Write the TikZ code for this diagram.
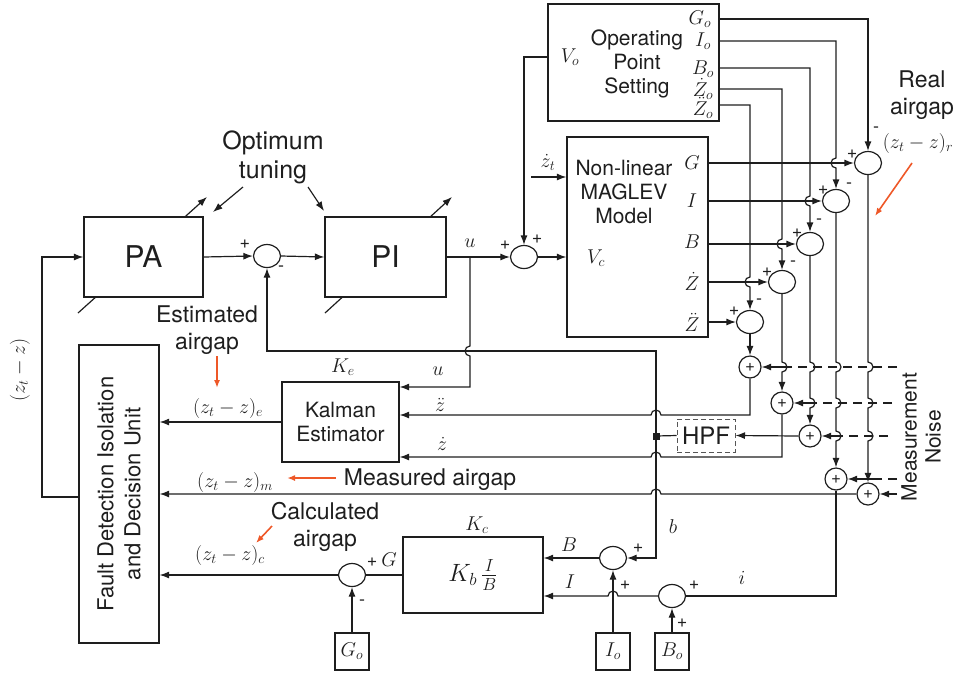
\documentclass[tikz,border=0pt]{standalone}
\usepackage{fix-cm}
\usepackage{fontspec}
\setsansfont{TeX Gyre Heros}
\usetikzlibrary{arrows.meta,shapes.geometric}
\definecolor{ink}{RGB}{30,30,30}
\definecolor{redo}{RGB}{238,88,40}
\begin{document}
\begin{tikzpicture}[x=1pt,y=-1pt,line width=1.2pt,color=ink,
 arr/.style={-{Latex[length=9.5pt,width=7pt]}},
 blk/.style={draw, fill=white, inner sep=0pt, align=center, font=\sffamily\fontsize{21}{24}\selectfont},
 txt/.style={inner sep=0pt, align=center, font=\sffamily\fontsize{21}{24}\selectfont},
 big/.style={font=\sffamily\fontsize{30}{32}\selectfont},
 sbox/.style={draw, fill=white, minimum width=34pt, minimum height=37pt, inner sep=0pt, font=\fontsize{20}{22}\selectfont},
 sumc/.style={draw, ellipse, minimum width=27pt, minimum height=23pt, inner sep=0pt},
 nsum/.style={draw, circle, minimum size=22pt, inner sep=0pt, font=\sffamily\fontsize{17}{17}\selectfont},
 sgn/.style={font=\sffamily\fontsize{18}{18}\selectfont, inner sep=0pt},
 ml/.style={font=\fontsize{20}{22}\selectfont, inner sep=0pt},
 ann/.style={font=\sffamily\fontsize{23}{27}\selectfont, align=center, inner sep=0pt},
 redarr/.style={draw=redo, line width=1.6pt, -{Latex[length=8pt,width=6pt]}},
 noise/.style={dashed, dash pattern=on 9pt off 6pt, line width=1.4pt}]
\useasboundingbox (0,0) rectangle (960,673);

% tuning arrows through PA and PI
\draw[arr] (78,313) -- (207,197);
\draw[arr] (325,313) -- (452,197);

% blocks
\node[blk, minimum width=171pt, minimum height=117pt] (ops) at (633.5,62.5) {};
\node[txt] (opst) at (637,64) {Operating\\Point\\Setting};
\node[blk, minimum width=141pt, minimum height=200pt] (mag) at (637.5,237) {};
\node[txt] (magt) at (624,192) {Non-linear\\MAGLEV\\Model};
\node[blk, big, minimum width=119pt, minimum height=80pt] (pa) at (143.5,257) {PA};
\node[blk, big, minimum width=121pt, minimum height=80pt] (pi) at (385.5,257) {PI};
\node[blk, minimum width=117pt, minimum height=80pt] (kal) at (340.5,422) {Kalman\\Estimator};
\node[blk, minimum width=80pt, minimum height=298pt] (fdi) at (119,494) {};
\node[ann, rotate=90, font=\sffamily\fontsize{22}{27}\selectfont] (fdit) at (119,494) {Fault Detection Isolation\\and Decision Unit};
\node[blk, minimum width=140pt, minimum height=76pt, font=\fontsize{25}{27}\selectfont] (kc) at (473,575) {$K_b\,\frac{I}{B}$};
\node[sbox] (go) at (352,651.5) {$G_o$};
\node[sbox] (io) at (613,651.5) {$I_o$};
\node[sbox] (bo) at (672,651.5) {$B_o$};
\node[draw=ink!75, dash pattern=on 5pt off 3pt, line width=1pt, minimum width=58pt, minimum height=33pt, inner sep=0pt, font=\sffamily\fontsize{24}{26}\selectfont] (hpf) at (706,435.5) {HPF};

% summing junctions
\node[sumc] (s1) at (267,256) {};
\node[sumc] (sv) at (524,257) {};
\node[sumc] (c1) at (868,163) {};
\node[sumc] (c2) at (836,201) {};
\node[sumc] (c3) at (810,244) {};
\node[sumc] (c4) at (782,282) {};
\node[sumc] (c5) at (750,322) {};
\node[sumc] (sg) at (352,575) {};
\node[sumc] (sb) at (613,558) {};
\node[sumc] (si) at (672,596) {};
\node[nsum] (n5) at (750,367) {+};
\node[nsum] (n4) at (782,403) {+};
\node[nsum] (n3) at (810,436) {+};
\node[nsum] (n2) at (836,479) {+};
\node[nsum] (n1) at (868,494) {+};
\node[fill=ink, minimum size=7pt, inner sep=0pt] (jn) at (656,436) {};
\coordinate (uj) at (470,256);
\coordinate (zt) at (531,177);

% main forward path
\draw[arr] (fdi.west |- 0,497) -- (42,497) -- (42,257) -- (pa.west);
\draw[arr] (pa.east) -- (s1.west);
\draw[arr] (s1.east) -- (pi.west);
\draw[arr] (pi.east) -- (sv.west);
\draw[arr] (sv.east) -- (mag.west |- sv.east);
\draw[arr] (ops.west |- 0,57) -- (524,57) -- (sv.north);
\draw[arr] (zt) -- (mag.west |- zt);
\draw[arr] (uj) -- (470,346) arc[start angle=270,end angle=90,radius=5] -- (470,387) -- (kal.east |- 0,387);

% operating point columns
\draw[arr] (ops.east |- 0,19) -- (868,19) -- (c1.north);
\draw[arr] (ops.east |- 0,41) -- (836,41) -- (836,158) arc[start angle=270,end angle=90,radius=5] -- (c2.north);
\draw[arr] (ops.east |- 0,68) -- (810,68) -- (810,196) arc[start angle=270,end angle=90,radius=5] -- (c3.north);
\draw[arr] (ops.east |- 0,89) -- (782,89) -- (782,239) arc[start angle=270,end angle=90,radius=5] -- (c4.north);
\draw[arr] (ops.east |- 0,105) -- (750,105) -- (750,277) arc[start angle=270,end angle=90,radius=5] -- (c5.north);

% model outputs
\draw[arr] (mag.east |- c1.west) -- (c1.west);
\draw[arr] (mag.east |- c2.west) -- (c2.west);
\draw[arr] (mag.east |- c3.west) -- (c3.west);
\draw[arr] (mag.east |- c4.west) -- (c4.west);
\draw[arr] (mag.east |- c5.west) -- (c5.west);

% difference outputs to noise sums
\draw[arr] (c1.south) -- (868,362) arc[start angle=-90,end angle=90,radius=5] -- (868,398) arc[start angle=-90,end angle=90,radius=5] -- (868,431) arc[start angle=-90,end angle=90,radius=5] -- (n1.north);
\draw[arr] (c2.south) -- (836,362) arc[start angle=-90,end angle=90,radius=5] -- (836,398) arc[start angle=-90,end angle=90,radius=5] -- (836,431) arc[start angle=-90,end angle=90,radius=5] -- (n2.north);
\draw[arr] (c3.south) -- (810,362) arc[start angle=-90,end angle=90,radius=5] -- (810,398) arc[start angle=-90,end angle=90,radius=5] -- (n3.north);
\draw[arr] (c4.south) -- (782,362) arc[start angle=-90,end angle=90,radius=5] -- (n4.north);
\draw[arr] (c5.south) -- (n5.north);

% measurement noise
\draw[noise] (897,367) -- (787,367);
\draw[arr] (787,367) -- (n5.east);
\draw[noise] (892,403) -- (815,403);
\draw[arr] (815,403) -- (n4.east);
\draw[noise] (888,436) -- (841,436);
\draw[arr] (841,436) -- (n3.east);
\draw[noise] (897,479) -- (873,479);
\draw[arr] (873,479) -- (n2.east);
\draw[arr] (897,494) -- (n1.east);

% measured signals
\draw[arr] (n5.south) -- (750,415) -- (661,415) arc[start angle=0,end angle=-180,radius=5] -- (kal.east |- 0,415);
\draw[arr] (n4.south) -- (782,457) -- (661,457) arc[start angle=0,end angle=-180,radius=5] -- (kal.east |- 0,457);
\draw[arr] (n3.west) -- (hpf.east);
\draw (hpf.west) -- (jn.center);
\draw (n2.south) -- (836,596) -- (si.east);
\draw[arr] (n1.west) -- (661,494) arc[start angle=0,end angle=-180,radius=5] -- (fdi.east |- 0,494);
\draw[arr] (jn.center) -- (656,351) -- (s1.south |- 0,351) -- (s1.south);
\draw[arr] (jn.center) -- (656,558) -- (sb.east);

% Kalman and calculated paths
\draw[arr] (kal.west) -- (fdi.east |- kal.west);
\draw (kc.west |- sg.east) -- (sg.east);
\draw[arr] (sg.west) -- (fdi.east |- sg.west);
\draw[arr] (go.north) -- (sg.south);
\draw[arr] (sb.west) -- (kc.east |- sb.west);
\draw[arr] (io.north) -- (sb.south);
\draw[arr] (si.west) -- (618,596) arc[start angle=0,end angle=-180,radius=5] -- (kc.east |- si.west);
\draw[arr] (bo.north) -- (si.south);

% optimum tuning
\node[ann, font=\sffamily\fontsize{25}{29}\selectfont] (opt) at (273,157) {Optimum\\tuning};
\draw[arr] (243,187) -- (213,212);
\draw[arr] (308,187) -- (324,211);

% annotations
\node[ann] (esta) at (207,330) {Estimated\\airgap};
\draw[redarr] (217,356) -- (217,388);
\node[ann] (meas) at (430,480) {Measured airgap};
\draw[redarr] (336,478) -- (287,478);
\node[ann] (calc) at (325,527) {Calculated\\airgap};
\draw[redarr] (272,526) -- (256,543);
\node[ann] (real) at (922,95) {Real\\airgap};
\draw[redarr] (912,163) -- (875,216);
\node[ann, rotate=90, font=\sffamily\fontsize{21}{24}\selectfont] (mn) at (921,437) {Measurement\\Noise};

% signs
\node[sgn] at (245,244) {+}; \node[sgn] at (281,269) {-};
\node[sgn] at (505,245) {+}; \node[sgn] at (537,239) {+};
\node[sgn] at (852,154) {+}; \node[sgn] at (876,130) {-};
\node[sgn] at (823,190) {+}; \node[sgn] at (849,186) {-};
\node[sgn] at (797,233) {+}; \node[sgn] at (819,222) {-};
\node[sgn] at (767,272) {+}; \node[sgn] at (793,264) {-};
\node[sgn] at (734,311) {+}; \node[sgn] at (759,302) {-};
\node[sgn] at (372,562) {+}; \node[sgn] at (362,603) {-};
\node[sgn] at (638,548) {+}; \node[sgn] at (625,585) {+};
\node[sgn] at (694,585) {+}; \node[sgn] at (682,623) {+};

% math labels
\node[ml] at (700,19) {$G_o$};
\node[ml] at (703,41) {$I_o$};
\node[ml] at (703,69) {$B_o$};
\node[ml] at (703,89) {$\dot{Z}_o$};
\node[ml] at (703,108) {$\ddot{Z}_o$};
\node[ml] at (570,57) {$V_o$};
\node[ml] at (692,163) {$G$};
\node[ml] at (692,201) {$I$};
\node[ml] at (692,242) {$B$};
\node[ml] at (692,281) {$\dot{Z}$};
\node[ml] at (692,322) {$\ddot{Z}$};
\node[ml] at (596,258) {$V_c$};
\node[ml] at (548,162) {$\dot{z}_t$};
\node[ml] at (470,243) {$u$};
\node[ml] at (918,143) {$(z_t-z)_r$};
\node[ml] at (343,367) {$K_e$};
\node[ml] at (438,371) {$u$};
\node[ml] at (440,405) {$\ddot{z}$};
\node[ml] at (442,444) {$\dot{z}$};
\node[ml] at (228,408) {$(z_t-z)_e$};
\node[ml] at (235,482) {$(z_t-z)_m$};
\node[ml] at (230,555) {$(z_t-z)_c$};
\node[ml, rotate=90] at (20,370) {$(z_t-z)$};
\node[ml] at (477,525) {$K_c$};
\node[ml] at (569,545) {$B$};
\node[ml] at (570,582) {$I$};
\node[ml] at (673,527) {$b$};
\node[ml] at (742,578) {$i$};
\node[ml] at (389,560) {$G$};
\end{tikzpicture}
\end{document}
